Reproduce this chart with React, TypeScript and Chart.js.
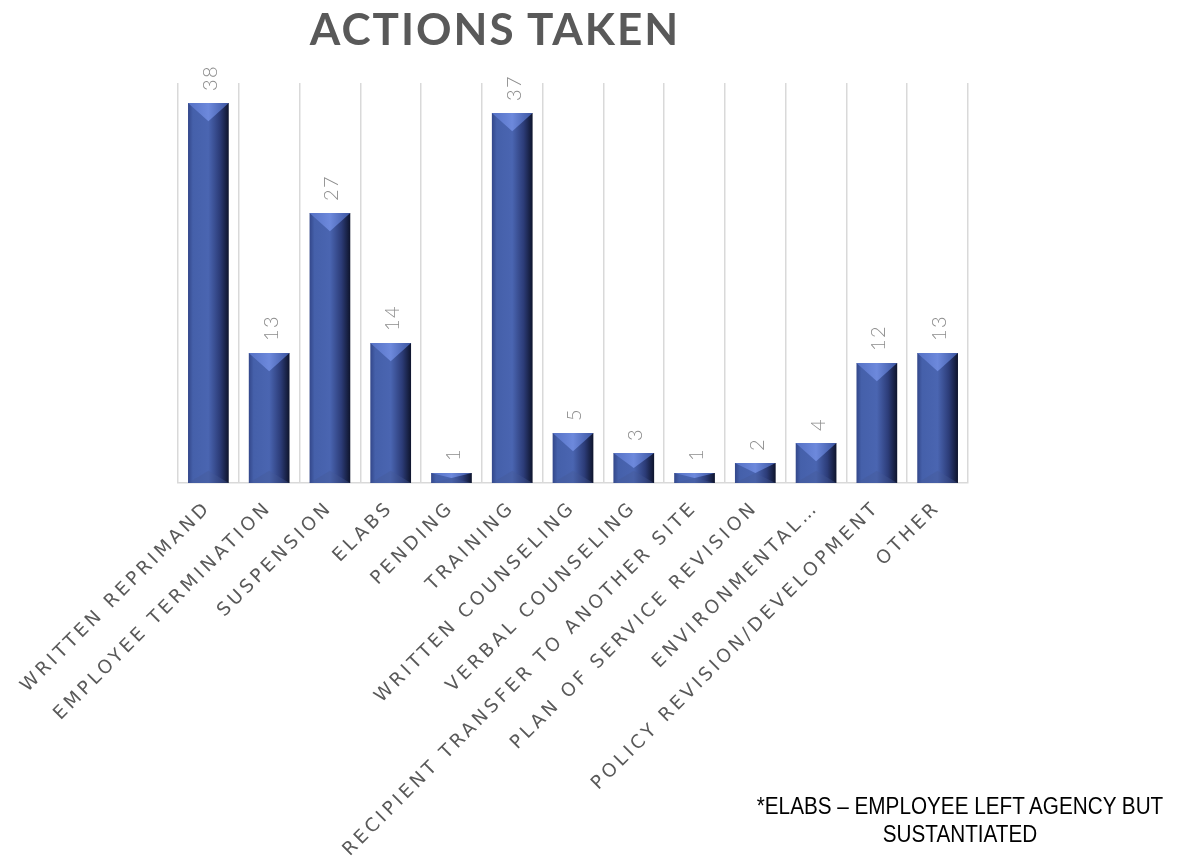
import React, { useEffect, useRef } from "react";
import { Chart, registerables } from "chart.js";

Chart.register(...registerables);

const categories = [
  "WRITTEN REPRIMAND",
  "EMPLOYEE TERMINATION",
  "SUSPENSION",
  "ELABS",
  "PENDING",
  "TRAINING",
  "WRITTEN COUNSELING",
  "VERBAL COUNSELING",
  "RECIPIENT TRANSFER TO ANOTHER SITE",
  "PLAN OF SERVICE REVISION",
  "ENVIRONMENTAL…",
  "POLICY REVISION/DEVELOPMENT",
  "OTHER",
];
const actionCounts = [38, 13, 27, 14, 1, 37, 5, 3, 1, 2, 4, 12, 13];
const yMin = 0;
const yMax = 40;
const chartTitle = "ACTIONS TAKEN";
const footnoteLines = ["*ELABS – EMPLOYEE LEFT AGENCY BUT", "SUSTANTIATED"];

const spacingPlugin = {
  id: "letterSpacing",
  beforeInit(chart: any) {
    (chart.ctx as any).letterSpacing = "3.5px";
  },
  beforeUpdate(chart: any) {
    (chart.ctx as any).letterSpacing = "3.5px";
  },
};

const bevelPlugin = {
  id: "bevelBars",
  afterDatasetDraw(chart: any, args: any) {
    const ctx = chart.ctx;
    const meta = args.meta;
    meta.data.forEach((el: any) => {
      const { x, y, base, width } = el.getProps(["x", "y", "base", "width"], true);
      const left = x - width / 2;
      const right = x + width / 2;
      const h = base - y;
      ctx.save();
      const g = ctx.createLinearGradient(left, 0, right, 0);
      g.addColorStop(0, "#33478a");
      g.addColorStop(0.12, "#4560aa");
      g.addColorStop(0.5, "#4a65b1");
      g.addColorStop(0.78, "#2c3c78");
      g.addColorStop(1, "#0e142c");
      ctx.fillStyle = g;
      ctx.fillRect(left, y, width, h);
      const d = Math.min(h / 2, width * 0.45);
      const gt = ctx.createLinearGradient(left, y, right, y);
      gt.addColorStop(0, "#5571c4");
      gt.addColorStop(0.5, "#6d89dc");
      gt.addColorStop(1, "#3c55a0");
      ctx.fillStyle = gt;
      ctx.beginPath();
      ctx.moveTo(left, y);
      ctx.lineTo(right, y);
      ctx.lineTo(x, y + d);
      ctx.closePath();
      ctx.fill();
      const db = Math.min(h / 2, width * 0.3);
      ctx.fillStyle = "rgba(70,90,150,0.35)";
      ctx.beginPath();
      ctx.moveTo(left, base);
      ctx.lineTo(right, base);
      ctx.lineTo(x, base - db);
      ctx.closePath();
      ctx.fill();
      ctx.restore();
    });
  },
};

const valueLabelPlugin = {
  id: "valueLabels",
  afterDatasetsDraw(chart: any) {
    const ctx = chart.ctx;
    const meta = chart.getDatasetMeta(0);
    const data = chart.data.datasets[0].data;
    meta.data.forEach((el: any, i: number) => {
      const { x, y } = el.getProps(["x", "y"], true);
      ctx.save();
      (ctx as any).letterSpacing = "1.5px";
      ctx.translate(x + 2, y - 12);
      ctx.rotate(-Math.PI / 2);
      ctx.font = "300 20px Lato, 'DejaVu Sans'";
      ctx.fillStyle = "#8c8c8c";
      ctx.textAlign = "left";
      ctx.textBaseline = "middle";
      ctx.fillText(String(data[i]), 0, 0);
      ctx.restore();
    });
  },
};

export default function App() {
  const canvasRef = useRef<HTMLCanvasElement | null>(null);

  useEffect(() => {
    if (!canvasRef.current) return;
    const chart = new Chart(canvasRef.current, {
      type: "bar",
      data: {
        labels: categories,
        datasets: [
          {
            data: actionCounts,
            backgroundColor: "rgba(0,0,0,0)",
            borderWidth: 0,
            categoryPercentage: 1,
            barPercentage: 0.67,
          },
        ],
      },
      options: {
        responsive: false,
        animation: false,
        layout: { padding: { left: 178, right: 217, top: 83, bottom: 0 } },
        plugins: {
          legend: { display: false },
          title: { display: false },
          tooltip: { enabled: false },
        },
        scales: {
          x: {
            offset: true,
            grid: {
              display: true,
              offset: true,
              color: "#d9d9d9",
              lineWidth: 1.5,
              drawTicks: false,
            },
            border: { display: true, color: "#d9d9d9", width: 1.5 },
            ticks: {
              autoSkip: false,
              maxRotation: 45,
              minRotation: 45,
              padding: 14,
              color: "#595959",
              font: { family: "'DejaVu Sans'", size: 18.5 },
            },
            afterFit: (axis: any) => {
              axis.height = 382;
            },
          },
          y: {
            display: false,
            min: yMin,
            max: yMax,
          },
        },
      },
      plugins: [spacingPlugin, bevelPlugin, valueLabelPlugin],
    });
    return () => chart.destroy();
  }, []);

  return (
    <div style={{ position: "absolute", left: 0, top: 0, width: 1185, height: 865, background: "#fff" }}>
      <canvas ref={canvasRef} width={1185} height={865} style={{ position: "absolute", left: 0, top: 0 }} />
      <div
        style={{
          position: "absolute",
          left: 0,
          top: 4,
          width: 990,
          textAlign: "center",
          fontFamily: "Lato, 'Open Sans', sans-serif",
          fontWeight: 700,
          fontSize: 44,
          lineHeight: "48px",
          letterSpacing: "2px",
          color: "#595959",
        }}
      >
        {chartTitle}
      </div>
      <div
        style={{
          position: "absolute",
          left: 960,
          top: 792,
          width: 0,
          fontFamily: "'Liberation Sans', Arial, sans-serif",
          fontSize: 23,
          lineHeight: "28px",
          color: "#000",
        }}
      >
        {footnoteLines.map((l, i) => (
          <div
            key={i}
            style={{
              position: "absolute",
              top: i * 28,
              left: 0,
              whiteSpace: "nowrap",
              transform: "scaleX(0.9) translateX(-50%)",
              transformOrigin: "0 0",
            }}
          >
            {l}
          </div>
        ))}
      </div>
    </div>
  );
}
